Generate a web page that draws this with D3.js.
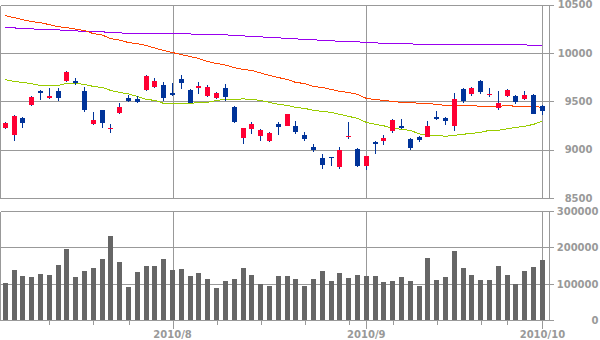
<!DOCTYPE html>
<html>
<head>
<meta charset="utf-8">
<script src="https://cdn.jsdelivr.net/npm/d3@7"></script>
<style>
  html, body { margin: 0; padding: 0; background: #fff; }
  svg { display: block; }
  text { font-family: "DejaVu Sans", Verdana, sans-serif; font-weight: bold; font-size: 10px; fill: #999; }
</style>
</head>
<body>
<svg id="chart" width="600" height="340"></svg>
<script>
// Daily trading sessions, 2010-07-05 .. 2010-10-01
const dates = [
  "2010-07-05","2010-07-06","2010-07-07","2010-07-08","2010-07-09",
  "2010-07-12","2010-07-13","2010-07-14","2010-07-15","2010-07-16",
  "2010-07-20","2010-07-21","2010-07-22","2010-07-23",
  "2010-07-26","2010-07-27","2010-07-28","2010-07-29","2010-07-30",
  "2010-08-02","2010-08-03","2010-08-04","2010-08-05","2010-08-06",
  "2010-08-09","2010-08-10","2010-08-11","2010-08-12","2010-08-13",
  "2010-08-16","2010-08-17","2010-08-18","2010-08-19","2010-08-20",
  "2010-08-23","2010-08-24","2010-08-25","2010-08-26","2010-08-27",
  "2010-08-30","2010-08-31","2010-09-01","2010-09-02","2010-09-03",
  "2010-09-06","2010-09-07","2010-09-08","2010-09-09","2010-09-10",
  "2010-09-13","2010-09-14","2010-09-15","2010-09-16","2010-09-17",
  "2010-09-21","2010-09-22","2010-09-24",
  "2010-09-27","2010-09-28","2010-09-29","2010-09-30","2010-10-01"
];
const open = [9220,9151,9323,9457,9601,9529,9601,9704,9704,9601,9264,9405,9216,9374,9529,9519,9612,9643,9663,
  9581,9725,9612,9632,9550,9529,9632,9436,9117,9209,9137,9086,9261,9240,9240,9148,9024,8910,8921,8818,9141,9003,
  8828,9075,9086,9189,9240,9106,9127,9127,9333,9323,9240,9622,9570,9704,9560,9426,9550,9550,9519,9560,9447];
const high = [9282,9354,9333,9550,9612,9632,9632,9808,9735,9643,9385,9405,9261,9478,9560,9550,9766,9735,9694,
  9684,9766,9622,9694,9663,9591,9673,9447,9220,9282,9209,9179,9282,9364,9292,9179,9055,8952,8921,9024,9282,9014,
  8931,9086,9148,9313,9313,9117,9137,9292,9395,9333,9581,9632,9643,9715,9632,9601,9622,9560,9601,9570,9457];
const low = [9210,9086,9220,9447,9508,9519,9498,9694,9663,9388,9251,9223,9172,9364,9488,9478,9601,9632,9498,
  9550,9622,9478,9570,9539,9519,9498,9271,9055,9158,9086,9075,9148,9240,9158,9086,8976,8797,8828,8797,9106,8818,
  8787,8952,9045,9168,9209,8996,9075,9127,9302,9251,9189,9478,9550,9570,9539,9405,9539,9467,9508,9364,9354];
const close = [9275,9344,9271,9539,9584,9550,9529,9797,9684,9409,9302,9275,9220,9436,9498,9488,9756,9704,9529,
  9560,9684,9478,9653,9643,9581,9539,9282,9220,9261,9199,9168,9230,9364,9179,9106,8993,8838,8910,8993,9144,8828,
  8931,9055,9117,9302,9220,9017,9096,9240,9313,9292,9519,9498,9632,9591,9570,9478,9612,9488,9560,9364,9395];
const volume = [103700,138500,122000,119300,127500,124800,152300,196300,119300,135800,
  144000,168800,232100,160600,91700,133000,149500,149500,168800,138500,
  141300,122000,130300,113800,89000,108300,113800,144000,124800,100000,
  94500,122000,122000,113800,94500,113800,135800,108300,130300,116500,
  124800,122000,122000,105500,108300,119300,108300,94500,171600,111000,
  119300,190800,144000,124800,111000,111000,149500,124800,100000,135800,
  146800,166100];
// Moving averages: short (green), medium (orange), long (purple)
const maShort = [9722,9704,9694,9680,9663,9663,9663,9684,9684,9673,9653,9642,9611,9591,9575,9550,9519,9508,9477,
  9477,9477,9477,9488,9488,9508,9519,9519,9524,9519,9508,9488,9467,9457,9436,9426,9405,9395,9384,9364,9343,9323,
  9281,9261,9245,9220,9209,9198,9163,9147,9147,9137,9147,9158,9168,9178,9199,9199,9214,9230,9240,9261,9292];
const maMid = [10385,10364,10343,10323,10312,10292,10271,10261,10245,10230,10199,10184,10147,10132,10106,10096,10075,10049,10024,
  10003,9982,9962,9941,9910,9890,9874,9848,9828,9818,9792,9766,9745,9725,9694,9683,9653,9642,9622,9601,9591,9570,
  9529,9518,9508,9498,9488,9488,9477,9477,9467,9457,9457,9457,9457,9446,9446,9446,9457,9446,9446,9446,9436];
const maLong = [10261,10258,10251,10249,10240,10240,10238,10230,10228,10220,10220,10218,10209,10207,10199,10199,10199,10199,10199,
  10197,10197,10195,10193,10189,10189,10187,10178,10176,10168,10166,10158,10156,10147,10145,10137,10135,10130,10127,10116,10116,10114,
  10106,10104,10096,10096,10096,10094,10085,10085,10085,10085,10085,10085,10085,10085,10085,10085,10085,10085,10083,10075,10075];
const priceTicks = [8500, 9000, 9500, 10000, 10500];
const volumeTicks = [0, 100000, 200000, 300000];

const C = {
  up: "#ff0033", down: "#003399", wick: "#003399", grid: "#999999", bar: "#666666",
  maShort: "#99cc00", maMid: "#ff4400", maLong: "#9900ee"
};

const svg = d3.select("#chart");
const n = dates.length;
const parse = d3.timeParse("%Y-%m-%d");
const days = dates.map(parse);

const left = 0.5, right = 549.5;
const x = d3.scaleLinear().domain([-0.6, n - 1 + 0.75]).range([0, 549]);
const yP = d3.scaleLinear().domain([8500, 10500]).range([197.9, 4.5]);
const yV = d3.scaleLinear().domain([0, 300000]).range([320.3, 211]);
const px = v => Math.round(v) + 0.5;

// month starts and first session of each week
const monthStarts = d3.range(1, n).filter(i => days[i].getMonth() !== days[i - 1].getMonth());
const weekStarts = d3.range(1, n).filter(i => days[i].getDay() < days[i - 1].getDay() ||
  (days[i] - days[i - 1]) > 6 * 864e5);

function panel(g, y, ticks, fmt, labelX) {
  const [y0, y1] = y.range();
  g.append("g").selectAll("line").data(ticks).join("line")
    .attr("x1", left).attr("x2", right + 4)
    .attr("y1", d => px(y(d))).attr("y2", d => px(y(d)))
    .attr("stroke", C.grid).attr("shape-rendering", "crispEdges");
  g.append("g").selectAll("line").data([left, right]).join("line")
    .attr("x1", d => d).attr("x2", d => d)
    .attr("y1", px(y1)).attr("y2", px(y0))
    .attr("stroke", C.grid).attr("shape-rendering", "crispEdges");
  g.append("g").selectAll("line").data(monthStarts).join("line")
    .attr("x1", i => px(x(i))).attr("x2", i => px(x(i)))
    .attr("y1", px(y1)).attr("y2", px(y0))
    .attr("stroke", C.grid).attr("shape-rendering", "crispEdges");
  g.append("g").selectAll("text").data(ticks).join("text")
    .attr("x", labelX).attr("y", d => y(d) + 3.7)
    .attr("text-anchor", "end").text(fmt);
}

const gPrice = svg.append("g");
const gVol = svg.append("g");
panel(gPrice, yP, priceTicks, d => d, 592.5);
panel(gVol, yV, volumeTicks, d => d, 598.5);

// volume bars
gVol.append("g").selectAll("rect").data(volume).join("rect")
  .attr("x", (d, i) => Math.round(x(i) - 2.5))
  .attr("width", 5)
  .attr("y", d => yV(d))
  .attr("height", d => yV(0) - yV(d))
  .attr("fill", C.bar).attr("shape-rendering", "crispEdges");

// moving averages
const idx = d3.range(n);
[[maLong, C.maLong], [maMid, C.maMid], [maShort, C.maShort]].forEach(([vals, col]) => {
  gPrice.append("path")
    .datum(idx)
    .attr("d", d3.line().x(i => x(i)).y(i => yP(vals[i])))
    .attr("fill", "none").attr("stroke", col).attr("stroke-width", 1)
    .attr("shape-rendering", "crispEdges");
});

// candlesticks: dark shadow line, body coloured by direction
const candles = gPrice.append("g").selectAll("g").data(idx).join("g");
const colorOf = i => close[i] >= open[i] ? C.up : C.down;
candles.append("line")
  .attr("x1", i => px(x(i) - 0.5)).attr("x2", i => px(x(i) - 0.5))
  .attr("y1", i => yP(high[i])).attr("y2", i => yP(low[i]))
  .attr("stroke", C.wick).attr("shape-rendering", "crispEdges");
candles.append("rect")
  .attr("x", i => Math.round(x(i) - 2.5))
  .attr("width", 5)
  .attr("y", i => Math.round(yP(Math.max(open[i], close[i]))))
  .attr("height", i => Math.max(1, Math.round(Math.abs(yP(open[i]) - yP(close[i])))))
  .attr("fill", colorOf).attr("shape-rendering", "crispEdges");

// time axis ticks and month labels
const gAxis = svg.append("g");
gAxis.selectAll("line.wk").data(weekStarts.filter(i => !monthStarts.includes(i))).join("line")
  .attr("x1", i => px(x(i))).attr("x2", i => px(x(i)))
  .attr("y1", px(yV(0))).attr("y2", px(yV(0)) + 4)
  .attr("stroke", C.grid).attr("shape-rendering", "crispEdges");
gAxis.selectAll("line.mo").data(monthStarts).join("line")
  .attr("x1", i => px(x(i))).attr("x2", i => px(x(i)))
  .attr("y1", px(yV(0))).attr("y2", px(yV(0)) + 8)
  .attr("stroke", C.grid).attr("shape-rendering", "crispEdges");
gAxis.selectAll("text").data(monthStarts).join("text")
  .attr("x", i => x(i)).attr("y", 338)
  .attr("text-anchor", "middle")
  .text(i => d3.timeFormat("%Y/")(days[i]) + (days[i].getMonth() + 1));
</script>
</body>
</html>
